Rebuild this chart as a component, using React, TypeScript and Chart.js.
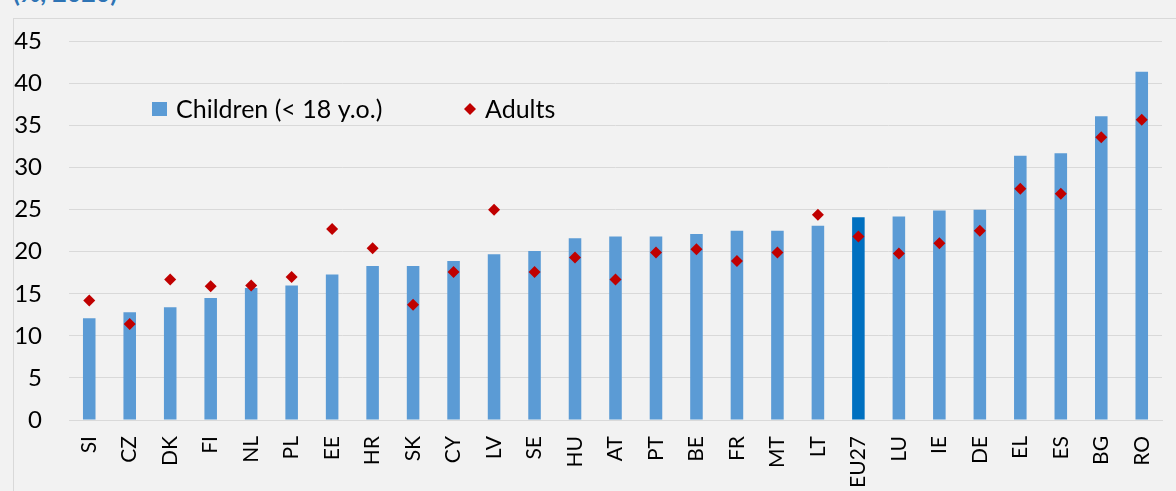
import React, { useEffect, useRef } from "react";
import { Chart, registerables } from "chart.js";

Chart.register(...registerables);

const categories = [
  "SI", "CZ", "DK", "FI", "NL", "PL", "EE", "HR", "SK", "CY", "LV", "SE", "HU", "AT",
  "PT", "BE", "FR", "MT", "LT", "EU27", "LU", "IE", "DE", "EL", "ES", "BG", "RO",
];

const childrenRates = [
  12.1, 12.8, 13.4, 14.5, 15.7, 16.0, 17.3, 18.3, 18.3, 18.9, 19.7, 20.1, 21.6, 21.8,
  21.8, 22.1, 22.5, 22.5, 23.1, 24.1, 24.2, 24.9, 25.0, 31.4, 31.7, 36.1, 41.4,
];

const adultRates = [
  14.2, 11.4, 16.7, 15.9, 16.0, 17.0, 22.7, 20.4, 13.7, 17.6, 25.0, 17.6, 19.3, 16.7,
  19.9, 20.3, 18.9, 19.9, 24.4, 21.8, 19.8, 21.0, 22.5, 27.5, 26.9, 33.6, 35.7,
];

const yTicks = [0, 5, 10, 15, 20, 25, 30, 35, 40, 45];

const BAR_COLOR = "#5B9BD5";
const EU_COLOR = "#0070C0";
const ADULT_COLOR = "#C00000";
const GRID_COLOR = "#D9D9D9";
const FONT = "Lato";

// Legend drawn inside the plot area: a square for the bars, a diamond for the points
const insideLegend = {
  id: "insideLegend",
  afterDatasetsDraw(chart: any) {
    const ctx = chart.ctx as CanvasRenderingContext2D;
    const ds = chart.data.datasets;
    const y = 109;
    ctx.save();
    ctx.font = `25px ${FONT}`;
    ctx.textBaseline = "middle";
    ctx.fillStyle = BAR_COLOR;
    ctx.fillRect(152, y - 7, 15, 14);
    ctx.fillStyle = "#000000";
    ctx.textAlign = "left";
    ctx.fillText(ds[0].label, 176, y + 1);

    const dx = 470;
    const r = 6;
    ctx.fillStyle = ADULT_COLOR;
    ctx.beginPath();
    ctx.moveTo(dx, y - r);
    ctx.lineTo(dx + r, y);
    ctx.lineTo(dx, y + r);
    ctx.lineTo(dx - r, y);
    ctx.closePath();
    ctx.fill();
    ctx.fillStyle = "#000000";
    ctx.fillText(ds[1].label, 485, y + 1);
    ctx.restore();
  },
};

export default function App() {
  const canvasRef = useRef<HTMLCanvasElement | null>(null);

  useEffect(() => {
    const canvas = canvasRef.current;
    if (!canvas) return;
    const chart = new Chart(canvas, {
      type: "bar",
      data: {
        labels: categories,
        datasets: [
          {
            type: "bar",
            label: "Children (< 18 y.o.)",
            data: childrenRates,
            backgroundColor: categories.map((c) => (c === "EU27" ? EU_COLOR : BAR_COLOR)),
            borderWidth: 0,
            barPercentage: 0.31,
            categoryPercentage: 1,
            order: 2,
          },
          {
            type: "line",
            label: "Adults",
            data: adultRates,
            showLine: false,
            pointStyle: "rectRot",
            pointRadius: 6,
            pointBackgroundColor: ADULT_COLOR,
            pointBorderColor: ADULT_COLOR,
            pointBorderWidth: 0,
            order: 1,
          } as any,
        ],
      },
      options: {
        responsive: false,
        animation: false,
        layout: { padding: { top: 41, right: 14, left: 0, bottom: 0 } },
        plugins: {
          legend: { display: false },
          tooltip: { enabled: false },
          title: { display: false },
        },
        scales: {
          x: {
            grid: { display: false },
            border: { display: true, color: GRID_COLOR, width: 1 },
            ticks: {
              autoSkip: false,
              minRotation: 90,
              maxRotation: 90,
              padding: 8,
              color: "#000000",
              font: { family: FONT, size: 21 },
            },
            afterFit(scale: any) {
              scale.height = 71;
            },
          },
          y: {
            min: 0,
            max: 45,
            grid: { color: GRID_COLOR, lineWidth: 1, drawTicks: false },
            border: { display: false },
            afterBuildTicks(scale: any) {
              scale.ticks = yTicks.map((v) => ({ value: v }));
            },
            ticks: {
              padding: 27,
              color: "#000000",
              font: { family: FONT, size: 24 },
            },
            afterFit(scale: any) {
              scale.width = 69;
            },
          },
        },
      },
      plugins: [insideLegend],
    });
    return () => chart.destroy();
  }, []);

  return (
    <div
      style={{
        position: "fixed",
        left: 0,
        top: 0,
        width: 1176,
        height: 491,
        overflow: "hidden",
        background: "#F2F2F2",
      }}
    >
      <div
        style={{
          position: "absolute",
          left: 13,
          top: -20,
          fontFamily: FONT,
          fontWeight: 700,
          fontSize: 25,
          lineHeight: "25px",
          color: "#2E74B5",
          whiteSpace: "nowrap",
        }}
      >
        (%, 2020)
      </div>
      <div
        style={{
          position: "absolute",
          left: 13,
          top: 18,
          width: 1300,
          height: 600,
          border: `1px solid ${GRID_COLOR}`,
          boxSizing: "border-box",
        }}
      />
      <canvas
        ref={canvasRef}
        width={1176}
        height={491}
        style={{ position: "absolute", left: 0, top: 0, width: 1176, height: 491 }}
      />
    </div>
  );
}
